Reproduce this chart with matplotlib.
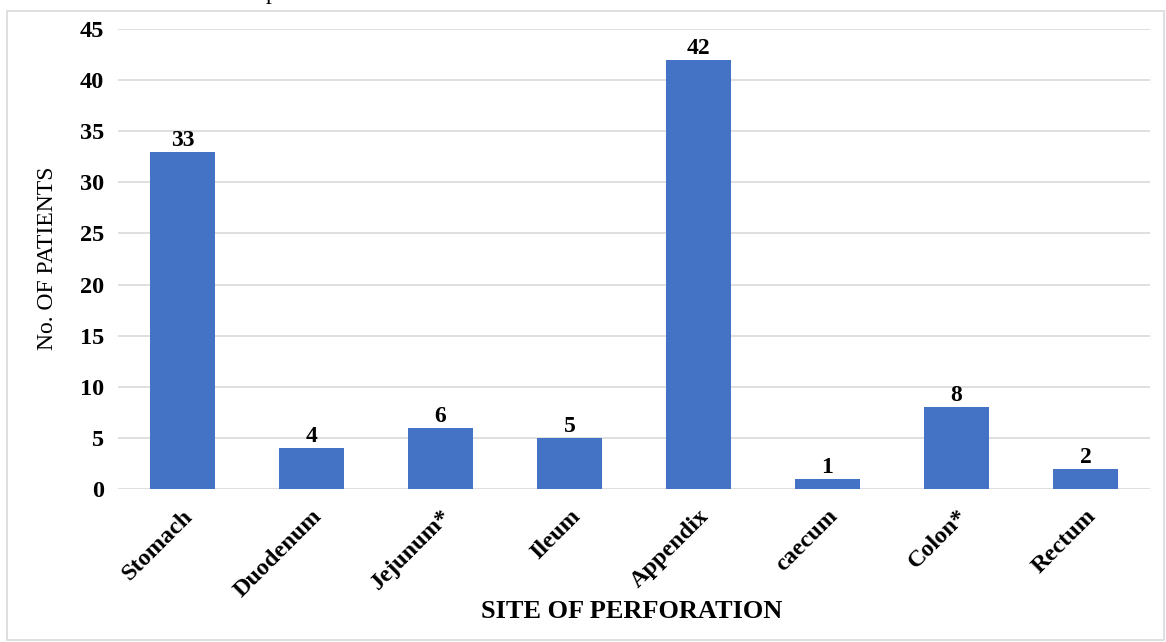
import matplotlib
matplotlib.use("Agg")
import matplotlib.pyplot as plt
from matplotlib.patches import Rectangle

categories = ["Stomach", "Duodenum", "Jejunum*", "Ileum", "Appendix", "caecum", "Colon*", "Rectum"]
patients = [33, 4, 6, 5, 42, 1, 8, 2]
yticks = [0, 5, 10, 15, 20, 25, 30, 35, 40, 45]

plt.rcParams['font.family'] = ['Liberation Serif', 'DejaVu Serif']

W, H = 1166, 642
fig = plt.figure(figsize=(W/100, H/100), dpi=100)
ax = fig.add_axes([118/W, 1-489/H, (1150-118)/W, (489-29)/H])

x = range(len(categories))
bars = ax.bar(x, patients, width=0.5, color="#4472C4", zorder=3)
for xi, v in zip(x, patients):
    ax.text(xi, v + 0.1, str(v), ha='center', va='bottom', fontsize=17, fontweight='bold')

ax.set_xlim(-0.5, len(categories) - 0.5)
ax.set_ylim(0, 45)
ax.set_yticks(yticks)
ax.set_yticklabels([str(t) for t in yticks], fontsize=17.5, fontweight='bold')
ax.set_xticks(list(x))
ax.set_xticklabels(categories, rotation=45, ha='right', rotation_mode='anchor', fontsize=17.5, fontweight='bold')
ax.tick_params(axis='both', length=0)
ax.tick_params(axis='y', pad=10)
ax.tick_params(axis='x', pad=12)
ax.grid(axis='y', color='#D9D9D9', linewidth=1.2, zorder=0)
for s in ax.spines.values():
    s.set_visible(False)

fig.text(48/W, 1-258/H, "No. OF PATIENTS", rotation=90, ha='center', va='center', fontsize=17)
fig.text(632/W, 1-612/H, "SITE OF PERFORATION", ha='center', va='center', fontsize=19, fontweight='bold')
# fragment of a caption cut off at the top edge
fig.text(272/W, 1+1/H, "p", ha='center', va='baseline', fontsize=17)

fig.patches.append(Rectangle((7/W, 1-640/H), (1164-7)/W, (640-11)/H, transform=fig.transFigure,
                             fill=False, edgecolor='#D9D9D9', linewidth=1.2))

fig.savefig("out.png", dpi=100)
